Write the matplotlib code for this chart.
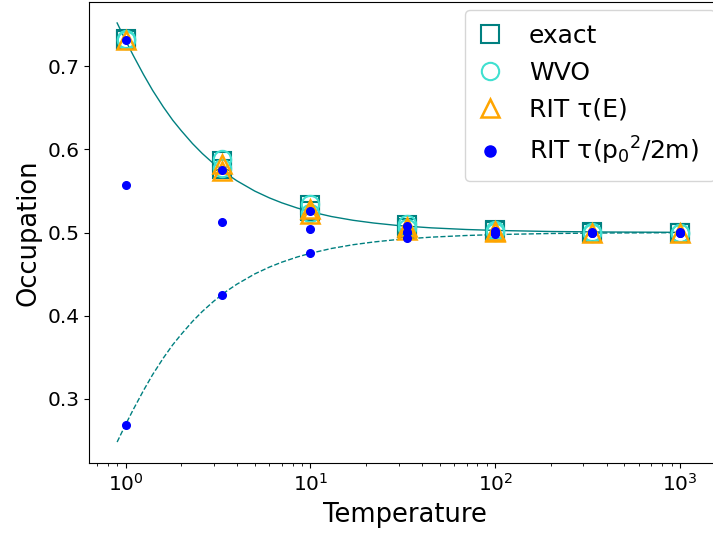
import numpy as np
import matplotlib.pyplot as plt

# reference curves
T_line = [0.9, 1.0, 1.1, 1.25, 1.4, 1.6, 1.8, 2.0, 2.3, 2.6, 3.0, 3.5, 4.0,
          5.0, 6.0, 7.0, 8.5, 10, 13, 17, 22, 30, 45, 70, 100, 200, 400, 1000]
upper = [0.752, 0.731, 0.713, 0.690, 0.671, 0.651, 0.635, 0.6225, 0.607,
         0.595, 0.5826, 0.5709, 0.5622, 0.5498, 0.5416, 0.5357, 0.5294,
         0.5250, 0.5192, 0.5147, 0.5114, 0.5083, 0.5056, 0.5036, 0.5025,
         0.5012, 0.5006, 0.5002]
lower = [0.248, 0.269, 0.287, 0.310, 0.329, 0.349, 0.365, 0.3775, 0.393,
         0.405, 0.4174, 0.4291, 0.4378, 0.4502, 0.4584, 0.4643, 0.4706,
         0.4750, 0.4808, 0.4853, 0.4886, 0.4917, 0.4944, 0.4964, 0.4975,
         0.4988, 0.4994, 0.4998]

# simulated points
T_exact = [1, 1, 3.33, 3.33, 10, 10, 33.3, 33.3, 100, 100, 333, 333, 1000, 1000]
exact = [0.731, 0.733, 0.576, 0.586, 0.526, 0.533, 0.506, 0.509,
         0.502, 0.503, 0.500, 0.501, 0.500, 0.500]
T_wvo = [1, 1, 3.33, 3.33, 10, 10, 33.3, 33.3, 100, 100, 333, 333, 1000, 1000]
wvo = [0.731, 0.733, 0.578, 0.588, 0.524, 0.534, 0.505, 0.510,
       0.501, 0.503, 0.500, 0.501, 0.500, 0.500]
T_ritE = [1, 3.33, 3.33, 10, 10, 33.3, 33.3, 100, 100, 333, 1000]
ritE = [0.731, 0.574, 0.582, 0.522, 0.528, 0.503, 0.507, 0.501, 0.502,
        0.500, 0.500]
T_ritp = [1, 1, 1, 3.33, 3.33, 3.33, 10, 10, 10, 33.3, 33.3, 33.3,
          100, 100, 100, 333, 333, 333, 1000, 1000, 1000]
ritp = [0.731, 0.557, 0.269, 0.575, 0.513, 0.425, 0.526, 0.504, 0.475,
        0.508, 0.501, 0.493, 0.502, 0.500, 0.498, 0.5005, 0.500, 0.4995,
        0.5005, 0.500, 0.4995]

fig = plt.figure(figsize=(7.13, 5.34), dpi=100)
# axes runs a little past the right edge of the picture (cropped figure)
ax = fig.add_axes([89/713, 71/534, 631/713, 461/534])

ax.plot(T_line, upper, "-", color="teal", lw=1)
ax.plot(T_line, lower, "--", color="teal", lw=1)
ax.plot(T_exact, exact, "s", ms=12.5, mfc="none", mec="teal", mew=1.5,
        ls="none", label="exact")
ax.plot(T_wvo, wvo, "o", ms=12.5, mfc="none", mec="turquoise", mew=1.5,
        ls="none", label="WVO")
ax.plot(T_ritE, ritE, "^", ms=12.5, mfc="none", mec="orange", mew=1.8,
        ls="none", label="RIT τ(E)")
ax.plot(T_ritp, ritp, "o", ms=5.5, color="blue", ls="none",
        label="RIT τ(p$_0$$^2$/2m)")

ax.set_xscale("log")
ax.set_xlim(0.634, 1644)
ax.set_yticks([0.3, 0.4, 0.5, 0.6, 0.7])
ax.tick_params(labelsize=14.5)
ax.set_xlabel("Temperature", fontsize=18.5, labelpad=5)
ax.set_ylabel("Occupation", fontsize=18.5)

leg = ax.legend(loc="upper left", bbox_to_anchor=(376/631, 0.983, 250/631, 0),
                mode="expand", fontsize=18, handlelength=0.9,
                handletextpad=1.1, borderaxespad=0, borderpad=0.55,
                labelspacing=0.52)
leg.legend_handles[3].set_markersize(8)

plt.savefig("out.png", dpi=100)
